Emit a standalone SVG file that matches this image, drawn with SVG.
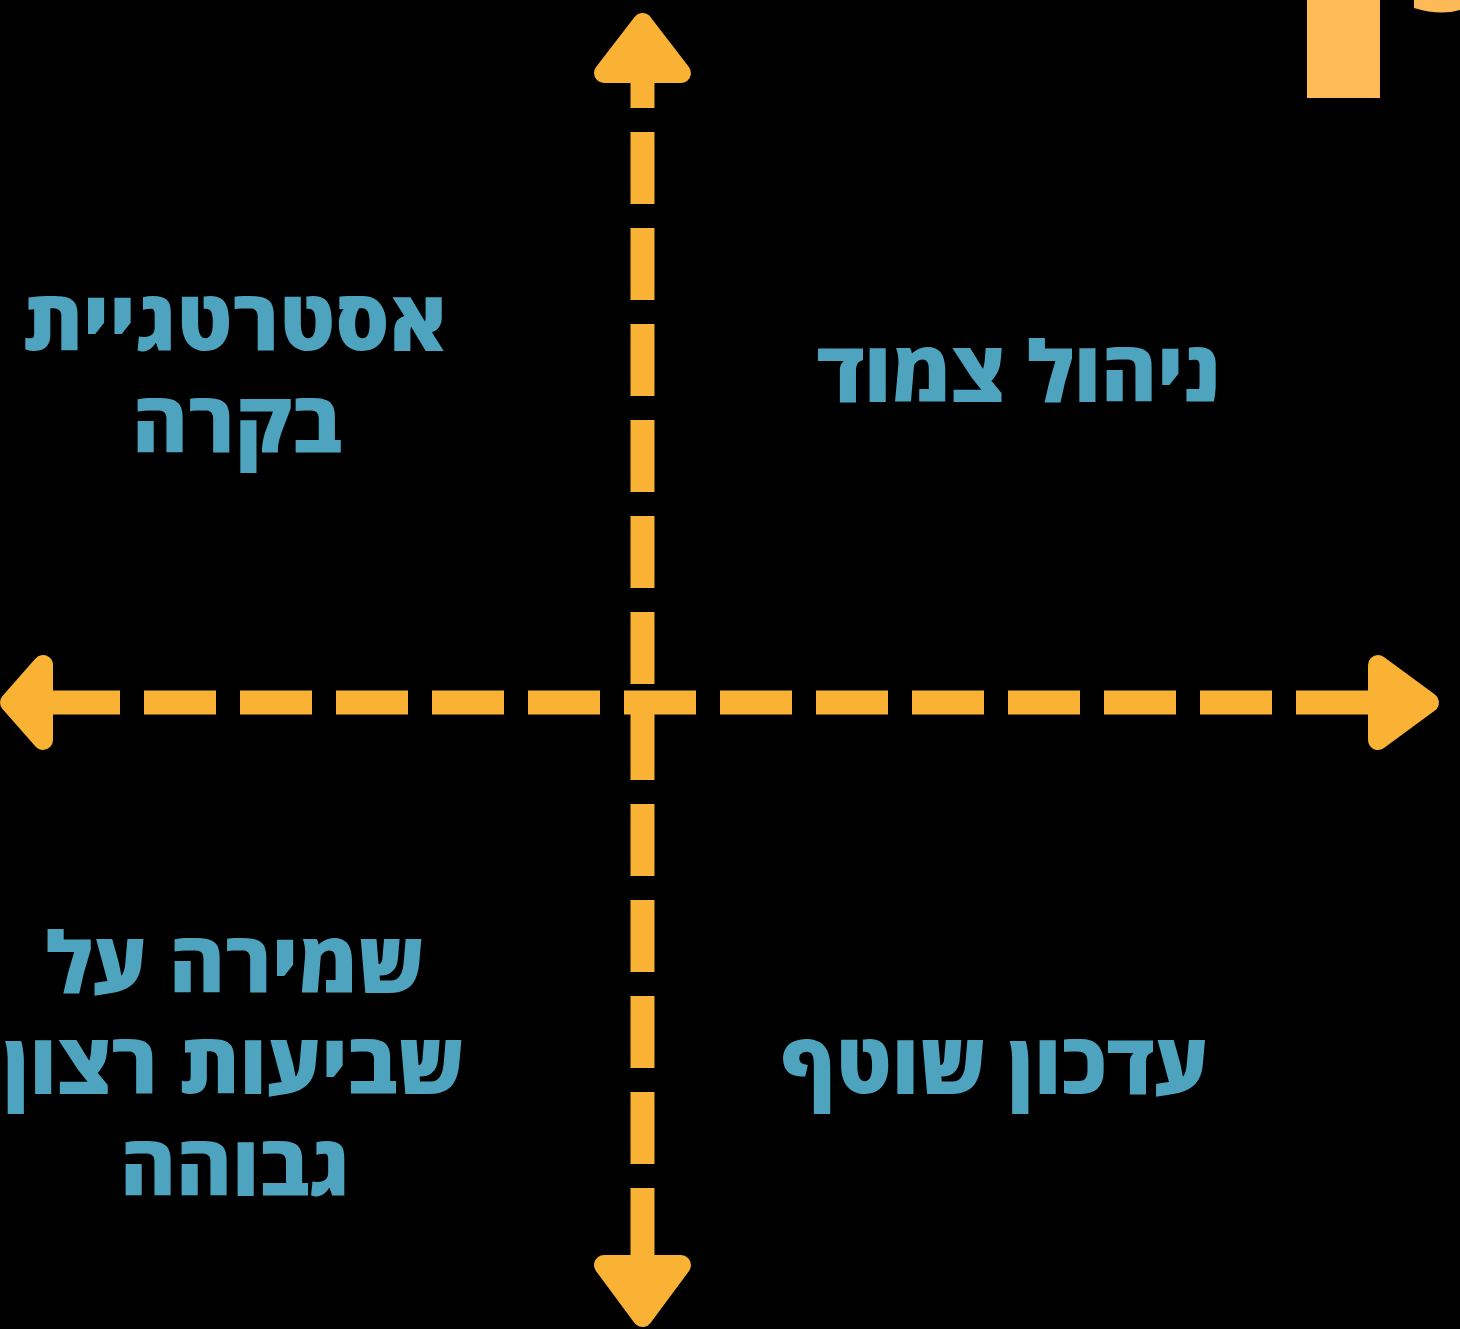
<svg xmlns="http://www.w3.org/2000/svg" width="1460" height="1329" viewBox="0 0 1460 1329">
<style>
.axis{stroke:#F9B233;stroke-width:24;stroke-dasharray:72 24;fill:none}
.head{fill:#F9B233;stroke:#F9B233;stroke-width:20;stroke-linejoin:round}
.lbl{font-family:"Open Sans","DejaVu Sans",sans-serif;font-weight:800;font-size:85px;fill:#4EA4BF;text-anchor:middle;direction:rtl}
</style>
<rect width="1460" height="1329" fill="#000"/>
<g id="deco">
<rect x="1307" y="0" width="73" height="98" fill="#FDBA56"/>
<path d="M1414,0 L1414,8 Q1440,16 1460,10 L1460,0 Z" fill="#FDBA56"/>
</g>
<g id="connectors">
<line class="axis" x1="642.5" y1="36" x2="642.5" y2="1260"/>
<line class="axis" x1="48" y1="702.5" x2="1368" y2="702.5"/>
<polygon class="head" points="642.5,23 681,73 604,73"/>
<polygon class="head" points="604,1265 681,1265 642.5,1317"/>
<polygon class="head" points="10,702.5 43,665 43,740"/>
<polygon class="head" points="1378,665 1429,702.5 1378,740"/>
</g>
<g id="q1"><text class="lbl" x="235" y="351">אסטרטגיית</text><text class="lbl" x="237" y="453">בקרה</text></g>
<g id="q2"><text class="lbl" x="1019" y="402">ניהול צמוד</text></g>
<g id="q3"><text class="lbl" x="235" y="993">שמירה על</text><text class="lbl" x="234" y="1094">שביעות רצון</text><text class="lbl" x="235" y="1196">גבוהה</text></g>
<g id="q4"><text class="lbl" x="995" y="1094">עדכון שוטף</text></g>
</svg>
